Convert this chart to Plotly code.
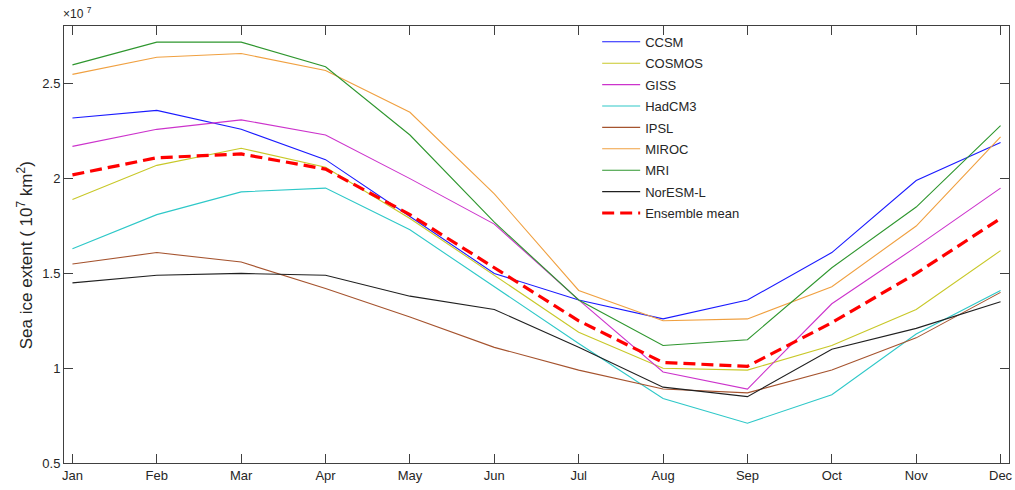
import plotly.graph_objects as go

months = ["Jan", "Feb", "Mar", "Apr", "May", "Jun", "Jul", "Aug", "Sep", "Oct", "Nov", "Dec"]
x_pos = list(range(1, 13))

ccsm = [2.32, 2.36, 2.26, 2.10, 1.80, 1.50, 1.36, 1.26, 1.36, 1.61, 1.99, 2.19]
cosmos = [1.89, 2.07, 2.16, 2.06, 1.79, 1.49, 1.19, 1.00, 0.99, 1.12, 1.31, 1.62]
giss = [2.17, 2.26, 2.31, 2.23, 2.00, 1.76, 1.36, 0.98, 0.89, 1.34, 1.64, 1.95]
hadcm3 = [1.63, 1.81, 1.93, 1.95, 1.73, 1.43, 1.13, 0.84, 0.71, 0.86, 1.18, 1.41]
ipsl = [1.55, 1.61, 1.56, 1.42, 1.27, 1.11, 0.99, 0.89, 0.87, 0.99, 1.16, 1.40]
miroc = [2.55, 2.64, 2.66, 2.57, 2.35, 1.92, 1.41, 1.25, 1.26, 1.43, 1.75, 2.22]
mri = [2.60, 2.72, 2.72, 2.59, 2.23, 1.77, 1.36, 1.12, 1.15, 1.53, 1.85, 2.28]
noresm = [1.45, 1.49, 1.50, 1.49, 1.38, 1.31, 1.11, 0.90, 0.85, 1.10, 1.21, 1.35]
ensemble = [2.02, 2.11, 2.13, 2.05, 1.81, 1.53, 1.25, 1.03, 1.01, 1.24, 1.50, 1.79]

series = [
    ("CCSM", ccsm, "#1a1aff"),
    ("COSMOS", cosmos, "#c8c828"),
    ("GISS", giss, "#cc33cc"),
    ("HadCM3", hadcm3, "#2ec8c8"),
    ("IPSL", ipsl, "#a5532e"),
    ("MIROC", miroc, "#f0a040"),
    ("MRI", mri, "#2e962e"),
    ("NorESM-L", noresm, "#202020"),
]

fig = go.Figure()
for i, (name, vals, col) in enumerate(series):
    fig.add_trace(go.Scatter(x=x_pos, y=vals, mode="lines", name=name,
                             legendgroup=f"g{i}",
                             line=dict(color=col, width=1.1)))
fig.add_trace(go.Scatter(x=x_pos, y=ensemble, mode="lines", name="Ensemble mean",
                         legendgroup="g9",
                         line=dict(color="#ff0000", width=3.2, dash="12px,6px")))

axis_col = "#404040"
font_family = "Liberation Sans, Arial, sans-serif"

fig.update_layout(
    width=1015, height=490,
    margin=dict(l=64, r=2, t=26, b=27),
    paper_bgcolor="white", plot_bgcolor="white",
    font=dict(family=font_family, size=13, color="#262626"),
    showlegend=True,
    legend=dict(x=0.5642, y=0.998, xanchor="left", yanchor="top",
                bgcolor="rgba(255,255,255,0)", borderwidth=0, itemwidth=38,
                tracegroupgap=1.5, font=dict(size=13, color="#262626")),
    xaxis=dict(range=[0.9, 12.1], tickmode="array", tickvals=x_pos, ticktext=months,
               showgrid=False, zeroline=False, showline=True, linecolor=axis_col,
               linewidth=1, mirror="ticks", ticks="inside", ticklen=9,
               tickcolor=axis_col, tickfont=dict(size=13), ticklabeloverflow="allow"),
    yaxis=dict(range=[0.5, 2.805], tickmode="array",
               tickvals=[0.5, 1, 1.5, 2, 2.5], ticktext=["0.5", "1", "1.5", "2", "2.5"],
               showgrid=False, zeroline=False, showline=True, linecolor=axis_col,
               linewidth=1, mirror="ticks", ticks="inside", ticklen=9,
               tickcolor=axis_col, tickfont=dict(size=13)),
    annotations=[
        dict(text="×10 <sup>7</sup>", xref="paper", yref="paper", x=-0.003, y=1.008,
             xanchor="left", yanchor="bottom", showarrow=False,
             font=dict(size=12, color="#262626")),
        dict(text="Sea ice extent ( 10<sup>7</sup> km<sup>2</sup>)", xref="paper", yref="paper",
             x=-0.041, y=0.476, xanchor="center", yanchor="middle", textangle=-90,
             showarrow=False, font=dict(size=17, color="#262626")),
    ],
)

fig.write_html("out.html")
